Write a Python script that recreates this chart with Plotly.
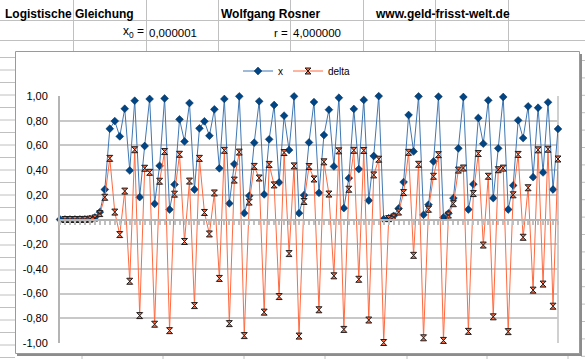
import plotly.graph_objects as go

# ---------------- data ----------------
n_index = list(range(101))

x_vals = [0.000001, 0.000004, 0.000016, 0.000064, 0.000256, 0.001, 0.004, 0.016, 0.06, 0.243,
          0.735, 0.797, 0.673, 0.897, 0.397, 0.962, 0.181, 0.595, 0.976, 0.127,
          0.435, 0.98, 0.081, 0.284, 0.811, 0.632, 0.943, 0.243, 0.738, 0.795,
          0.678, 0.892, 0.414, 0.976, 0.130, 0.449, 0.997, 0.051, 0.192, 0.622,
          0.957, 0.203, 0.649, 0.927, 0.300, 0.841, 0.562, 0.997, 0.051, 0.197,
          0.624, 0.951, 0.216, 0.684, 0.889, 0.430, 0.986, 0.092, 0.335, 0.895,
          0.408, 0.968, 0.154, 0.514, 0.999, 0.003, 0.01, 0.03, 0.09, 0.303,
          0.846, 0.551, 0.997, 0.038, 0.12, 0.47, 0.995, 0.016, 0.05, 0.173,
          0.576, 0.992, 0.081, 0.286, 0.822, 0.614, 0.965, 0.173, 0.576, 0.992,
          0.081, 0.276, 0.803, 0.659, 0.916, 0.343, 0.905, 0.381, 0.949, 0.243,
          0.733]

delta_vals = [None, 0.000003, 0.000012, 0.000048, 0.000192, 0.0007, 0.003, 0.012, 0.048, 0.18,
              0.495, 0.06, -0.122, 0.23, -0.5, 0.565, -0.778, 0.415, 0.382, -0.848,
              0.31, 0.55, -0.9, 0.205, 0.528, -0.178, 0.311, -0.697, 0.495, 0.057,
              -0.117, 0.215, -0.477, 0.56, -0.843, 0.319, 0.546, -0.94, 0.141, 0.43,
              0.336, -0.75, 0.446, 0.28, -0.624, 0.542, -0.276, 0.434, -0.944, 0.146,
              0.429, 0.328, -0.731, 0.467, 0.206, -0.456, 0.556, -0.89, 0.245, 0.56,
              -0.484, 0.559, -0.814, 0.361, 0.488, -0.996, 0.007, 0.02, 0.06, 0.218,
              0.544, -0.29, 0.447, -0.958, 0.083, 0.35, 0.525, -0.979, 0.036, 0.128,
              0.4, 0.417, -0.906, 0.21, 0.534, -0.207, 0.35, -0.788, 0.403, 0.416,
              -0.908, 0.2, 0.527, -0.144, 0.257, -0.572, 0.564, -0.523, 0.569, -0.702,
              0.49]

y_tick_vals = [1.0, 0.8, 0.6, 0.4, 0.2, 0.0, -0.2, -0.4, -0.6, -0.8, -1.0]
y_tick_text = ["1,00", "0,80", "0,60", "0,40", "0,20", "0,00",
               "-0,20", "-0,40", "-0,60", "-0,80", "-1,00"]

series_names = ["x", "delta"]

# ---------------- layout geometry (pixels) ----------------
W, H = 585, 359
L, R, T, B = 60, 27, 96, 16
PW, PH = W - L - R, H - T - B


def px(xp):
    return (xp - L) / PW


def py(yp):
    return (H - B - yp) / PH


FONT = "Liberation Sans, Arial, sans-serif"
GRID = "#c8c8c8"
SHEET = "#c0c0c0"

fig = go.Figure()
fig.add_trace(go.Scatter(
    x=n_index, y=x_vals, name=series_names[0], mode="lines+markers",
    line=dict(color="#3f77b3", width=1),
    marker=dict(symbol="diamond", size=6, color="#004586",
                line=dict(color="#00284d", width=0.5)),
    cliponaxis=False,
))
fig.add_trace(go.Scatter(
    x=n_index, y=delta_vals, name=series_names[1], mode="lines+markers",
    line=dict(color="#ff6a40", width=1),
    marker=dict(symbol="hourglass", size=6, color="#ff6a40",
                line=dict(color="#1e1e1e", width=1)),
    cliponaxis=False,
))

shapes = []
# spreadsheet row lines
for yy in (20.5, 40.5):
    shapes.append(dict(type="line", xref="paper", yref="paper",
                       x0=px(0), x1=px(W), y0=py(yy), y1=py(yy),
                       line=dict(color=SHEET, width=1), layer="below"))
# spreadsheet column lines (above chart)
for xx in (73.5, 146.5, 218.5, 290.5, 363.5, 435.5, 508.5):
    shapes.append(dict(type="line", xref="paper", yref="paper",
                       x0=px(xx), x1=px(xx), y0=py(0), y1=py(52),
                       line=dict(color=SHEET, width=1), layer="below"))
# row lines left of chart
yy = 57.5
while yy < H:
    shapes.append(dict(type="line", xref="paper", yref="paper",
                       x0=px(0), x1=px(15), y0=py(yy), y1=py(yy),
                       line=dict(color=SHEET, width=1), layer="below"))
    yy += 12.5
# row lines right of chart
yy = 60.5
while yy < H:
    shapes.append(dict(type="line", xref="paper", yref="paper",
                       x0=px(581), x1=px(W), y0=py(yy), y1=py(yy),
                       line=dict(color=SHEET, width=1), layer="below"))
    yy += 17.4
# column stubs below chart
for xx in (82, 163, 244, 325, 407, 487, 568):
    shapes.append(dict(type="line", xref="paper", yref="paper",
                       x0=px(xx), x1=px(xx), y0=py(355), y1=py(H),
                       line=dict(color=SHEET, width=1), layer="below"))
# chart frame with shadow
shapes.append(dict(type="rect", xref="paper", yref="paper",
                   x0=px(17), x1=px(582), y0=py(54), y1=py(356),
                   line=dict(width=0), fillcolor="#8c8c8c", layer="below"))
shapes.append(dict(type="rect", xref="paper", yref="paper",
                   x0=px(15.5), x1=px(579.5), y0=py(51.5), y1=py(353.5),
                   line=dict(color="#9a9a9a", width=1), fillcolor="white",
                   layer="below"))
# right border of plot area
shapes.append(dict(type="line", xref="paper", yref="paper",
                   x0=1, x1=1, y0=0, y1=1,
                   line=dict(color="#d0d0d0", width=2), layer="below"))

annotations = []


def txt(s, x, y, size=12, bold=False, anchor="left"):
    annotations.append(dict(
        text=("<b>%s</b>" % s) if bold else s, xref="paper", yref="paper",
        x=px(x), y=py(y), xanchor=anchor, yanchor="middle", showarrow=False,
        font=dict(family=FONT, size=size, color="black")))


txt("Logistische Gleichung", 3, 14, 12, True)
txt("Wolfgang Rosner", 219, 14, 12, True)
txt("www.geld-frisst-welt.de", 373, 14, 12, True)
txt("x<sub>0</sub> =", 146, 32, 12, False, "right")
txt("0,000001", 147, 33, 11.5)
txt("r =", 290, 33, 11.5, False, "right")
txt("4,000000", 291, 33, 11.5)

fig.update_layout(
    width=W, height=H,
    margin=dict(l=L, r=R, t=T, b=B, pad=0, autoexpand=False),
    paper_bgcolor="white", plot_bgcolor="rgba(0,0,0,0)",
    font=dict(family=FONT, size=11, color="black"),
    showlegend=True,
    legend=dict(orientation="h", x=px(297), y=py(71), xanchor="center",
                yanchor="middle", font=dict(family=FONT, size=10, color="black"),
                bgcolor="rgba(0,0,0,0)", itemwidth=30, tracegroupgap=0),
    shapes=shapes, annotations=annotations,
    xaxis=dict(range=[0, 100], anchor="free", position=0.5,
               showgrid=False, zeroline=False, showticklabels=False,
               showline=True, linecolor="#b4b4b4", linewidth=2,
               ticks="outside", ticklen=4, tickwidth=1.5, tickcolor="#c0c0c0",
               tick0=0, dtick=1, fixedrange=True, automargin=False),
    yaxis=dict(range=[-1, 1], tickvals=y_tick_vals, ticktext=y_tick_text,
               showgrid=True, gridcolor=GRID, gridwidth=2, zeroline=False,
               showline=True, linecolor="#b4b4b4", linewidth=2,
               ticks="", ticklabelstandoff=8, automargin=False,
               tickfont=dict(family=FONT, size=11, color="black"),
               fixedrange=True),
)

fig.write_html(
    "out.html",
    config={"displayModeBar": False},
    post_script="document.body.style.margin='0px';"
                "document.body.style.overflow='hidden';",
)
